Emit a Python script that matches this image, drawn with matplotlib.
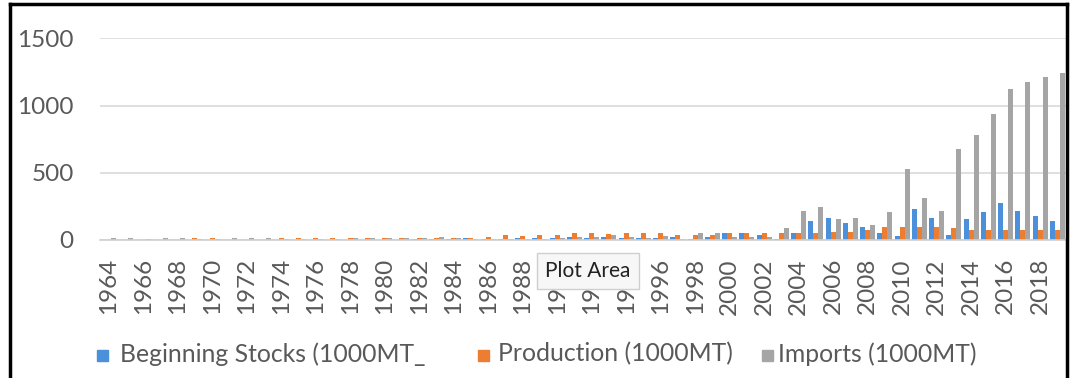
import numpy as np
import matplotlib
matplotlib.use("Agg")
import matplotlib.pyplot as plt
from matplotlib.lines import Line2D
from matplotlib.patches import Rectangle

plt.rcParams['font.family'] = ['Lato', 'DejaVu Sans']

# Marketing-year categories
years = list(range(1964, 2020))

# Beginning stocks (1000 MT)
beginning_stocks = [
    0, 0, 0, 0, 0, 0, 0, 0, 0, 0,            # 1964-1973
    0, 0, 0, 0, 2, 2, 2, 3, 5, 10,           # 1974-1983
    10, 12, 8, 10, 15, 12, 12, 25, 15, 25,   # 1984-1993
    15, 15, 15, 20, 8, 22, 50, 50, 37, 10,   # 1994-2003
    50, 141, 166, 129, 99, 50, 32, 230, 166, 35,  # 2004-2013
    153, 205, 272, 218, 178, 141,            # 2014-2019
]

# Production (1000 MT)
production = [
    3, 3, 3, 3, 3, 12, 12, 3, 3, 3,
    12, 12, 12, 12, 12, 12, 12, 12, 12, 12,
    12, 12, 25, 38, 30, 35, 35, 50, 50, 45,
    50, 50, 50, 38, 35, 35, 50, 50, 49, 49,
    49, 49, 61, 61, 73, 98, 98, 99, 99, 87,
    74, 74, 74, 74, 74, 74,
]

# Imports (1000 MT)
imports = [
    12, 12, 10, 12, 12, 10, 10, 12, 12, 12,
    10, 10, 10, 10, 12, 12, 12, 12, 12, 20,
    12, 10, 10, 10, 10, 10, 12, 20, 20, 38,
    20, 15, 30, 10, 50, 50, 22, 22, 22, 88,
    218, 245, 153, 166, 111, 205, 530, 309, 218, 676,
    781, 938, 1120, 1175, 1213, 1240,
]

series_labels = ["Beginning Stocks (1000MT_", "Production (1000MT)", "Imports (1000MT)"]
y_ticks = [0, 500, 1000, 1500]

BLUE = "#4A90DA"
ORANGE = "#ED7D31"
GREY = "#A5A5A5"
TEXT = "#595959"

W, H = 1070, 378
fig = plt.figure(figsize=(W / 100, H / 100), dpi=100)
ax = fig.add_axes([100 / W, 1 - 240 / H, 966 / W, 201.7 / H])

x = np.arange(len(years))
bw = 0.29
ax.bar(x - bw, beginning_stocks, bw, color=BLUE, zorder=2)
ax.bar(x, production, bw, color=ORANGE, zorder=2)
ax.bar(x + bw, imports, bw, color=GREY, zorder=2)

ax.set_xlim(-0.5, len(years) - 0.5)
ax.set_ylim(0, 1500)
ax.set_yticks(y_ticks)
ax.set_yticklabels([str(v) for v in y_ticks])
ax.set_xticks(x[::2])
ax.set_xticklabels([str(y) for y in years[::2]], rotation=90)

ax.yaxis.grid(True, color="#D9D9D9", lw=1.2, zorder=0)
ax.set_axisbelow(True)
for side in ("left", "right", "top"):
    ax.spines[side].set_visible(False)
ax.spines["bottom"].set_color("#D0D0D0")
ax.spines["bottom"].set_linewidth(1.2)
ax.tick_params(axis="both", length=0, labelsize=17.5, colors=TEXT)
ax.tick_params(axis="y", pad=19)
ax.tick_params(axis="x", pad=13)

# Legend drawn as coloured squares with labels below the plot
legend_items = [
    (BLUE, series_labels[0], 97, 120),
    (ORANGE, series_labels[1], 478, 498),
    (GREY, series_labels[2], 762, 778),
]
for color, label, sx, tx in legend_items:
    fig.add_artist(Rectangle((sx / W, 1 - 361 / H), 11 / W, 11 / H,
                             transform=fig.transFigure, color=color))
    fig.text(tx / W, 1 - 354 / H, label, fontsize=17.8, color=TEXT,
             ha="left", va="center")

# Hover tip over the plot area
fig.text(545 / W, 1 - 271 / H, "Plot Area", fontsize=15, color="#222222",
         ha="left", va="center", zorder=10,
         bbox=dict(boxstyle="square,pad=0.4", fc="#F7F7F7", ec="#CFCFCF", lw=1))

# Outer chart frame
frame_kw = dict(transform=fig.transFigure, color="black", lw=2.5)
fig.add_artist(Line2D([10 / W, 10 / W], [0, 1 - 4 / H], **frame_kw))
fig.add_artist(Line2D([10 / W, 1067 / W], [1 - 4 / H, 1 - 4 / H], **frame_kw))
fig.add_artist(Line2D([1067 / W, 1067 / W], [0, 1 - 4 / H], **frame_kw))

fig.savefig("out.png", dpi=100, facecolor="white")
